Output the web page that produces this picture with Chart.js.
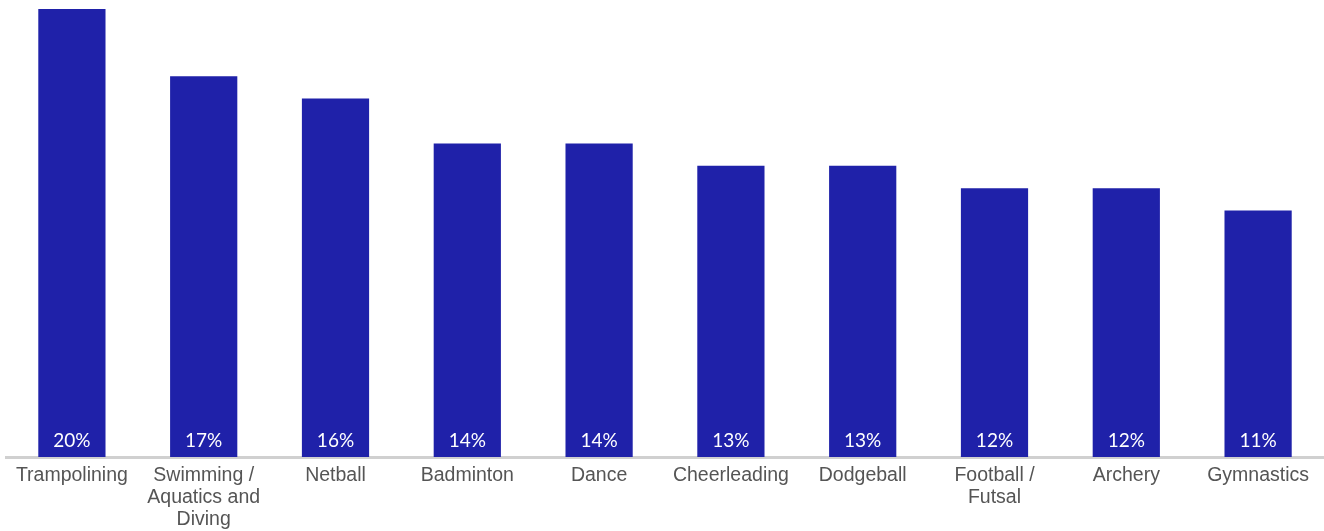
<!DOCTYPE html>
<html>
<head>
<meta charset="utf-8">
<script src="https://cdn.jsdelivr.net/npm/chart.js@4"></script>
<style>
  html, body { margin: 0; padding: 0; background: #fff; }
  #wrap { width: 1324px; height: 531px; position: relative; }
</style>
</head>
<body>
<div id="wrap"><canvas id="chart"></canvas></div>
<script>
// Sports and share of respondents
const categories = [
  'Trampolining',
  ['Swimming /', 'Aquatics and', 'Diving'],
  'Netball',
  'Badminton',
  'Dance',
  'Cheerleading',
  'Dodgeball',
  ['Football /', 'Futsal'],
  'Archery',
  'Gymnastics'
];
const shares = [20, 17, 16, 14, 14, 13, 13, 12, 12, 11];

// white % labels sitting at the bottom of each bar
const barLabels = {
  id: 'barLabels',
  afterDatasetsDraw(chart) {
    const ctx = chart.ctx;
    const meta = chart.getDatasetMeta(0);
    ctx.save();
    ctx.fillStyle = '#ffffff';
    ctx.font = '19px Lato, "Open Sans", sans-serif';
    ctx.textAlign = 'center';
    ctx.textBaseline = 'middle';
    meta.data.forEach((bar, i) => {
      ctx.fillText(shares[i] + '%', bar.x, bar.base - 16);
    });
    ctx.restore();
  }
};

new Chart(document.getElementById('chart'), {
  type: 'bar',
  data: {
    labels: categories,
    datasets: [{
      data: shares,
      backgroundColor: '#1f21a9',
      categoryPercentage: 0.51,
      barPercentage: 1
    }]
  },
  options: {
    responsive: true,
    maintainAspectRatio: false,
    animation: false,
    layout: { padding: { top: 9, left: 6, right: 0, bottom: 0 } },
    plugins: {
      legend: { display: false },
      tooltip: { enabled: false }
    },
    scales: {
      y: { display: false, min: 0, max: 20 },
      x: {
        grid: { display: false },
        border: { color: '#d0d0d0', width: 3 },
        ticks: {
          color: '#555555',
          font: { family: '"Liberation Sans", Arial, sans-serif', size: 19.5, lineHeight: 1.15 },
          maxRotation: 0,
          autoSkip: false,
          padding: -1
        },
        afterFit(axis) { axis.height = 74; }
      }
    }
  },
  plugins: [barLabels]
});
</script>
</body>
</html>
